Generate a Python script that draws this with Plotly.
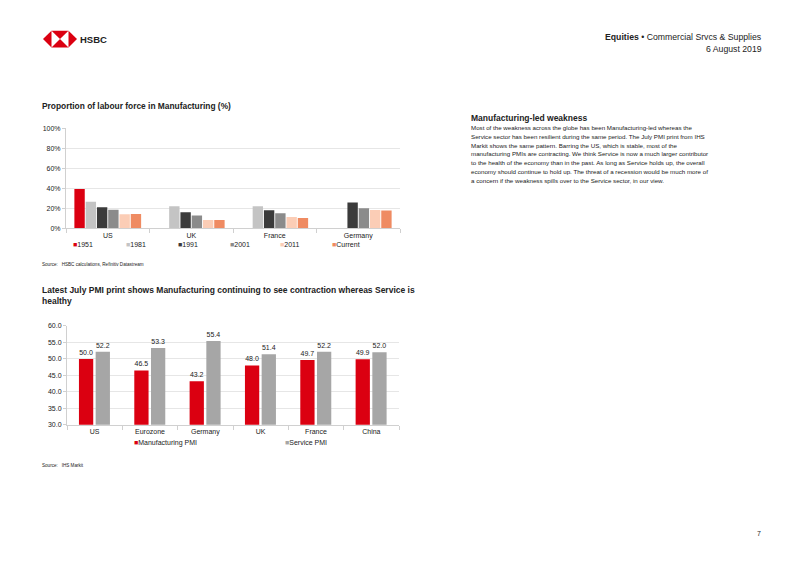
import plotly.graph_objects as go

W, H = 802, 567

# labour force in manufacturing (%)
countries = ["US", "UK", "France", "Germany"]
years = ["1951", "1981", "1991", "2001", "2011", "Current"]
labour_1951 = [39.2, None, None, None]
labour_1981 = [26.6, 22.0, 22.0, None]
labour_1991 = [21.0, 16.0, 18.0, 25.8]
labour_2001 = [18.4, 12.6, 15.0, 20.0]
labour_2011 = [14.0, 8.3, 11.3, 18.2]
labour_current = [14.3, 8.3, 10.3, 17.8]
year_colors = ["#DB0011", "#C4C4C4", "#3B3B3B", "#8B8B8B", "#FBCDB6", "#EF8B62"]

# July PMI
regions = ["US", "Eurozone", "Germany", "UK", "France", "China"]
manufacturing_pmi = [50.0, 46.5, 43.2, 48.0, 49.7, 49.9]
service_pmi = [52.2, 53.3, 55.4, 51.4, 52.2, 52.0]

body_lines = [
    "Most of the weakness across the globe has been Manufacturing-led whereas the",
    "Service sector has been resilient during the same period. The July PMI print from IHS",
    "Markit shows the same pattern. Barring the US, which is stable, most of the",
    "manufacturing PMIs are contracting. We think Service is now a much larger contributor",
    "to the health of the economy than in the past. As long as Service holds up, the overall",
    "economy should continue to hold up. The threat of a recession would be much more of",
    "a concern if the weakness spills over to the Service sector, in our view.",
]

FONT = "Arial, Liberation Sans, sans-serif"
TXT = "#222222"
GRID = "#E6E6E6"
AXL = "#D0D0D0"


def px(x):  # pixel -> paper x
    return x / W


def py(y):  # pixel -> paper y
    return 1 - y / H


def swatch(name, col):
    return f"<span style='color:{col}'>\u25A0</span>{name}"


fig = go.Figure()
legends = {}

# legend marker centres (px) for each entry
leg1_x = [76, 129, 181, 233, 283, 335]
leg2_x = [137, 288]

labour = [labour_1951, labour_1981, labour_1991, labour_2001, labour_2011, labour_current]
for i, (name, vals, col) in enumerate(zip(years, labour, year_colors)):
    lg = "legend" if i == 0 else f"legend{i + 1}"
    fig.add_trace(go.Bar(x=countries, y=vals, name=name, marker_color=col,
                         marker_line_width=0, showlegend=False,
                         xaxis="x", yaxis="y"))
    fig.add_trace(go.Scatter(x=[None], y=[None], mode="none", name=swatch(name, col),
                             legend=lg, xaxis="x", yaxis="y"))
    legends[lg] = (leg1_x[i], 243)

pmi = [("Manufacturing PMI", manufacturing_pmi, "#DB0011", -0.284),
       ("Service PMI", service_pmi, "#A6A6A6", 0.018)]
for j, (name, vals, col, off) in enumerate(pmi):
    lg = f"legend{7 + j}"
    fig.add_trace(go.Bar(x=regions, y=vals, name=name, marker_color=col,
                         marker_line_width=0, width=0.258, offset=off,
                         texttemplate="%{y:.1f}", textposition="outside",
                         textfont=dict(size=7, color=TXT, family=FONT),
                         cliponaxis=False, showlegend=False,
                         xaxis="x2", yaxis="y2"))
    fig.add_trace(go.Scatter(x=[None], y=[None], mode="none", name=swatch(name, col),
                             legend=lg, xaxis="x2", yaxis="y2"))
    legends[lg] = (leg2_x[j], 444)

xcommon = dict(type="category", showline=True, linecolor=AXL, linewidth=1,
               ticks="outside", tickson="boundaries", ticklen=4, tickcolor=AXL,
               tickfont=dict(size=7, color=TXT), showgrid=False, fixedrange=True)
ycommon = dict(showline=True, linecolor=AXL, linewidth=1, ticks="outside",
               ticklen=3, tickcolor=AXL, tickfont=dict(size=7, color=TXT),
               showgrid=True, gridcolor=GRID, gridwidth=1, zeroline=False)

fig.update_layout(
    width=W, height=H,
    margin=dict(l=0, r=0, t=0, b=0),
    paper_bgcolor="white", plot_bgcolor="white",
    font=dict(family=FONT, color=TXT),
    barmode="group", bargap=0.19, bargroupgap=0.08,
    xaxis=dict(domain=[px(66), px(400)], anchor="y", **xcommon),
    yaxis=dict(domain=[py(227), py(126)], anchor="x", range=[0, 100], dtick=20,
               ticksuffix="%", **ycommon),
    xaxis2=dict(domain=[px(67), px(399)], anchor="y2", **xcommon),
    yaxis2=dict(domain=[py(426), py(326)], anchor="x2", range=[30, 60], dtick=5,
                tickformat=".1f", **ycommon),
)

for lg, (cx, cy) in legends.items():
    fig.update_layout({lg: dict(orientation="h", x=px(cx - 3 - 40), y=py(cy),
                                xanchor="left", yanchor="middle", itemwidth=30,
                                font=dict(size=7, color=TXT, family=FONT),
                                bgcolor="rgba(0,0,0,0)", itemclick=False,
                                itemdoubleclick=False)})

ann = [
    dict(x=px(78), y=py(36), text="<b>HSBC</b>", size=9.5, xanchor="left"),
    dict(x=px(764), y=py(33.5), text="<b>Equities</b> \u2022 Commercial Srvcs & Supplies",
         size=8.7, xanchor="right"),
    dict(x=px(764), y=py(45.5), text="6 August 2019", size=8.7, xanchor="right"),
    dict(x=px(40), y=py(103), text="<b>Proportion of labour force in Manufacturing (%)</b>",
         size=8.4, xanchor="left"),
    dict(x=px(40), y=py(264), text="Source:   HSBC calculations, Refinitiv Datastream",
         size=4.6, xanchor="left"),
    dict(x=px(40), y=py(289.3), text="<b>Latest July PMI print shows Manufacturing continuing "
         "to see contraction whereas Service is</b>", size=8.5, xanchor="left"),
    dict(x=px(40), y=py(300.7), text="<b>healthy</b>", size=8.5, xanchor="left"),
    dict(x=px(40), y=py(467), text="Source:   IHS Markit", size=4.6, xanchor="left"),
    dict(x=px(469), y=py(115.5), text="<b>Manufacturing-led weakness</b>", size=8.5,
         xanchor="left"),
    dict(x=px(759), y=py(536), text="7", size=7, xanchor="center"),
]
for i, line in enumerate(body_lines):
    ann.append(dict(x=px(469), y=py(125 + i * 8.9), text=line, size=6.2, xanchor="left"))

for a in ann:
    fig.add_annotation(x=a["x"], y=a["y"], xref="paper", yref="paper", text=a["text"],
                       showarrow=False, xanchor=a["xanchor"], yanchor="middle",
                       font=dict(size=a["size"], color=TXT, family=FONT))


# HSBC hexagon logo
def path(pts):
    return "M" + " L".join(f"{px(x):.5f},{py(y):.5f}" for x, y in pts) + " Z"


lx0, lx1, lx2, lx3 = 43, 51.5, 68.5, 77
ly0, ly1, ly2 = 27, 35.5, 44
fig.add_shape(type="path", xref="paper", yref="paper", line_width=0, fillcolor="#DB0011",
              path=path([(lx0, ly1), (lx1, ly0), (lx2, ly0), (lx3, ly1), (lx2, ly2), (lx1, ly2)]))
fig.add_shape(type="path", xref="paper", yref="paper", line_width=0, fillcolor="white",
              path=path([(lx1, ly0), ((lx1 + lx2) / 2, ly1), (lx1, ly2)]))
fig.add_shape(type="path", xref="paper", yref="paper", line_width=0, fillcolor="white",
              path=path([(lx2, ly0), ((lx1 + lx2) / 2, ly1), (lx2, ly2)]))

# drop the default page margin so the figure sits at the window origin
fig.write_html("out.html", config={"displayModeBar": False},
               post_script="document.body.style.margin='0';")
